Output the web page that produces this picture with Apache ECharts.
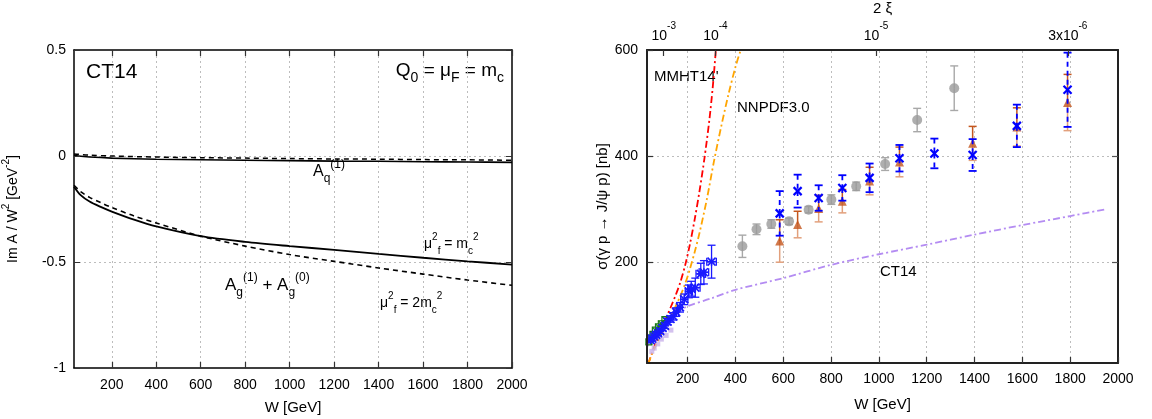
<!DOCTYPE html>
<html><head><meta charset="utf-8">
<script src="https://cdn.jsdelivr.net/npm/echarts@6/dist/echarts.min.js"></script>
<style>html,body{margin:0;padding:0;background:#fff}#c{width:1152px;height:419px}</style>
</head><body><div id="c"></div>
<script>
// ---------- data ----------
const W_TICKS = [200,400,600,800,1000,1200,1400,1600,1800,2000];
const LEFT_Y_GRID = [0,-0.5];
const RIGHT_Y_TICKS = [200,400,600];
const RIGHT_Y_GRID = [200,400];
const XI_TICK_W = [100,316,988,1790];
const XI_TICK_LABELS = ['{n|10}{e|-3}','{n|10}{e|-4}','{n|10}{e|-5}','{n|3x10}{e|-6}'];

// left panel: Im A / W^2
const aqW      = [30,50,100,200,400,600,800,1000,1200,1400,1600,1800,2000];
const aqSolid  = [0.005,0.0,-0.005,-0.01,-0.015,-0.018,-0.02,-0.022,-0.024,-0.025,-0.027,-0.028,-0.03];
const aqDashed = [0.01,0.008,0.004,0.0,-0.005,-0.008,-0.01,-0.012,-0.014,-0.015,-0.017,-0.018,-0.02];
const agW      = [30,60,100,150,200,300,400,600,800,1000,1200,1400,1600,1800,2000];
const agSolid  = [-0.145,-0.185,-0.215,-0.24,-0.262,-0.30,-0.332,-0.378,-0.405,-0.425,-0.443,-0.462,-0.48,-0.497,-0.512];
const agDashed = [-0.138,-0.168,-0.195,-0.22,-0.243,-0.283,-0.316,-0.378,-0.425,-0.465,-0.497,-0.528,-0.557,-0.585,-0.61];

// right panel: sigma(gamma p -> J/psi p)
const mmhtW  = [35,50,70,90,110,130,150,170,190,210,230,250,270,290,305,318];
const mmhtV  = [8,28,52,74,95,116,138,163,195,235,282,335,395,465,530,600];
const nnpdfW = [35,50,70,90,110,130,150,170,190,210,230,250,280,310,340,370,400,422];
const nnpdfV = [8,26,46,64,82,99,117,137,160,188,220,256,318,390,455,515,568,600];
const ct14W  = [30,50,75,100,150,200,300,400,600,800,1000,1200,1400,1600,1800,1950];
const ct14V  = [40,58,74,88,104,117,132,148,170,195,215,233,252,270,287,300];

const greyW   = [429,488,550,624,706,801,905,1026,1160,1315];
const greyV   = [230,262,272,277,299,318,343,385,468,528];
const greyErr = [21,10,8,6,6,9,8,12,22,42];

const triW   = [585,660,748,847,961,1086,1392,1577,1789];
const triV   = [240,271,301,315,353,389,424,455,501];
const triErr = [40,25,25,22,26,28,32,36,53];

const bxW   = [585,660,748,847,961,1086,1232,1392,1577,1789];
const bxV   = [292,334,321,340,359,396,405,402,457,525];
const bxErr = [42,31,24,24,27,25,28,30,40,70];

const starW   = [45,52,60,68,76,85,95,105,116,128,140,152,168,186,205,215,232,255,268,300];
const starV   = [53,56,60,63,66,70,76,80,88,93,98,106,115,130,145,150,152,178,181,201];
const starErr = [3,3,3,4,4,4,5,5,6,6,7,8,9,10,12,14,18,20,22,31];
const starXErr= [0,0,0,0,0,0,0,0,0,0,0,10,10,15,15,15,20,20,20,20];

const greenW = [38,45,55,65,78,90,105];
const greenV = [50,57,64,72,78,84,92];

const lavW = [50,60,75,90,110,130];
const lavV = [32,38,46,55,62,72];

// ---------- helpers ----------
const FONT = '"Liberation Sans", Arial, Helvetica, sans-serif';
const zip = (...a) => a[0].map((_, i) => a.map(x => x[i]));
const GRID_W = W_TICKS.filter(w => w < 2000);
function rich(base){
  const s = Math.round(base*0.72);
  return {
    m:{fontSize:base,fontFamily:FONT,color:'#000',lineHeight:base+10,verticalAlign:'middle'},
    s:{fontSize:s,fontFamily:FONT,color:'#000',lineHeight:s,verticalAlign:'bottom'},
    p:{fontSize:s,fontFamily:FONT,color:'#000',lineHeight:s,verticalAlign:'top'}
  };
}
function errRender(o){
  return function(params, api){
    const x=api.value(0), y=api.value(1), ey=api.value(2), ex=api.value(3)||0;
    const c=api.coord([x,y]);
    const top=api.coord([x,y+ey]), bot=api.coord([x,y-ey]);
    const ch=[];
    const lw=o.lw||1.3, cap=o.cap||4;
    if(ey>0){
      ch.push({type:'line',shape:{x1:c[0],y1:top[1],x2:c[0],y2:c[1]},style:{stroke:o.up||o.color,lineWidth:lw,lineDash:o.dash||null}});
      ch.push({type:'line',shape:{x1:c[0],y1:c[1],x2:c[0],y2:bot[1]},style:{stroke:o.down||o.color,lineWidth:lw,lineDash:o.dash||null}});
      ch.push({type:'line',shape:{x1:c[0]-cap,y1:top[1],x2:c[0]+cap,y2:top[1]},style:{stroke:o.up||o.color,lineWidth:lw}});
      ch.push({type:'line',shape:{x1:c[0]-cap,y1:bot[1],x2:c[0]+cap,y2:bot[1]},style:{stroke:o.down||o.color,lineWidth:lw}});
    }
    if(ex>0){
      const l=api.coord([x-ex,y]), r=api.coord([x+ex,y]);
      ch.push({type:'line',shape:{x1:l[0],y1:c[1],x2:r[0],y2:c[1]},style:{stroke:o.color,lineWidth:lw}});
      ch.push({type:'line',shape:{x1:l[0],y1:c[1]-cap,x2:l[0],y2:c[1]+cap},style:{stroke:o.color,lineWidth:lw}});
      ch.push({type:'line',shape:{x1:r[0],y1:c[1]-cap,x2:r[0],y2:c[1]+cap},style:{stroke:o.color,lineWidth:lw}});
    }
    const m=o.msize||4, ms={stroke:o.mcolor||o.color,lineWidth:o.mlw||2,fill:null};
    if(o.marker==='x'||o.marker==='star'||o.marker==='sqx'){
      ch.push({type:'line',shape:{x1:c[0]-m,y1:c[1]-m,x2:c[0]+m,y2:c[1]+m},style:ms});
      ch.push({type:'line',shape:{x1:c[0]-m,y1:c[1]+m,x2:c[0]+m,y2:c[1]-m},style:ms});
    }
    if(o.marker==='star'){
      ch.push({type:'line',shape:{x1:c[0]-m,y1:c[1],x2:c[0]+m,y2:c[1]},style:ms});
      ch.push({type:'line',shape:{x1:c[0],y1:c[1]-m,x2:c[0],y2:c[1]+m},style:ms});
    }
    if(o.marker==='sqx'){
      ch.push({type:'rect',shape:{x:c[0]-m,y:c[1]-m,width:2*m,height:2*m},style:{stroke:o.mcolor||o.color,lineWidth:1.2,fill:null}});
    }
    return {type:'group',children:ch};
  };
}
const gridLineStyle = {color:'#bdbdbd',type:[2,3],width:1};
const frame = {show:true,onZero:false,lineStyle:{color:'#000',width:1.5}};
const frameR = {show:true,onZero:false,lineStyle:{color:'#222',width:2}};
const tickIn = (vals, color) => ({show:true,inside:true,length:6,customValues:vals,lineStyle:{color:color||'#333',width:1.2}});
const plain = v => String(v);

// ---------- axes ----------
const xAxis = [
  {gridIndex:0,z:10,type:'value',min:30,max:2000,position:'bottom',axisLine:frame,
   axisTick:tickIn(W_TICKS),axisLabel:{customValues:W_TICKS,formatter:plain,fontSize:14,color:'#000',fontFamily:FONT,margin:10},
   splitLine:{show:false},name:'W [GeV]',nameLocation:'middle',nameGap:32,
   nameTextStyle:{fontSize:15,color:'#000',fontFamily:FONT}},
  {gridIndex:0,z:10,type:'value',min:30,max:2000,position:'top',axisLine:frame,
   axisTick:tickIn(W_TICKS),axisLabel:{show:false},splitLine:{show:false}},
  {gridIndex:1,z:10,type:'value',min:30,max:2000,position:'bottom',axisLine:frameR,
   axisTick:tickIn(W_TICKS),axisLabel:{customValues:W_TICKS,formatter:plain,fontSize:14,color:'#000',fontFamily:FONT,margin:9},
   splitLine:{show:false},name:'W [GeV]',nameLocation:'middle',nameGap:34,
   nameTextStyle:{fontSize:15,color:'#000',fontFamily:FONT}},
  {gridIndex:1,z:10,type:'value',min:30,max:2000,position:'top',axisLine:frameR,
   axisTick:tickIn(XI_TICK_W),
   axisLabel:{customValues:XI_TICK_W,margin:7,formatter:v=>XI_TICK_LABELS[XI_TICK_W.indexOf(v)]||'',
     rich:{n:{fontSize:14,fontFamily:FONT,color:'#000',lineHeight:22,verticalAlign:'bottom'},
           e:{fontSize:10,fontFamily:FONT,color:'#000',lineHeight:10,verticalAlign:'top'}}},
   splitLine:{show:false},name:'2 ξ',nameLocation:'middle',nameGap:31,
   nameTextStyle:{fontSize:15,color:'#000',fontFamily:FONT}}
];
const yAxis = [
  {gridIndex:0,z:10,type:'value',min:-1,max:0.5,interval:0.5,position:'left',axisLine:frame,
   axisTick:{show:true,inside:true,length:6,lineStyle:{color:'#333'}},
   axisLabel:{fontSize:14,color:'#000',fontFamily:FONT,margin:8},splitLine:{show:false},
   name:'{m|Im A / W}{p|2}{m| [GeV}{p|-2}{m|]}',nameLocation:'middle',nameGap:49,
   nameTextStyle:{rich:rich(14)}},
  {gridIndex:0,z:10,type:'value',min:-1,max:0.5,interval:0.5,position:'right',axisLine:frame,
   axisTick:{show:true,inside:true,length:6,lineStyle:{color:'#333'}},axisLabel:{show:false},splitLine:{show:false}},
  {gridIndex:1,z:10,type:'value',min:10,max:600,position:'left',axisLine:frameR,
   axisTick:tickIn(RIGHT_Y_TICKS),axisLabel:{customValues:RIGHT_Y_TICKS,formatter:plain,fontSize:14,color:'#000',fontFamily:FONT,margin:9},
   splitLine:{show:false},name:'σ(γ p → J/ψ p) [nb]',nameLocation:'middle',nameGap:30,
   nameTextStyle:{fontSize:15,color:'#000',fontFamily:FONT}},
  {gridIndex:1,z:10,type:'value',min:10,max:600,position:'right',axisLine:frameR,
   axisTick:tickIn(RIGHT_Y_GRID,'#555'),axisLabel:{show:false},splitLine:{show:false}}
];

// ---------- series ----------
const lineS = (name,xi,yi,W,V,color,type,width,extra) => Object.assign({
  name,type:'line',xAxisIndex:xi,yAxisIndex:yi,data:zip(W,V),showSymbol:false,smooth:0.3,
  lineStyle:{color,type,width},z:3},extra||{});
const gridMarks = (vert, horiz) => ({silent:true,symbol:'none',label:{show:false},lineStyle:gridLineStyle,
  animation:false,z:1,data:vert.map(w=>({xAxis:w})).concat(horiz.map(v=>({yAxis:v})))});

const series = [
  lineS('Aq solid',0,0,aqW,aqSolid,'#000','solid',1.6,{markLine:gridMarks(GRID_W,LEFT_Y_GRID)}),
  lineS('Aq dashed',0,0,aqW,aqDashed,'#000',[5,4],1.5),
  lineS('Ag solid',0,0,agW,agSolid,'#000','solid',1.8),
  lineS('Ag dashed',0,0,agW,agDashed,'#000',[5,4],1.6),

  lineS('MMHT14',2,2,mmhtW,mmhtV,'#ff0000',[7,3,2,3],1.8,{markLine:gridMarks(GRID_W,RIGHT_Y_GRID)}),
  lineS('NNPDF3.0',2,2,nnpdfW,nnpdfV,'#ffa500',[7,3,2,3],1.8),
  lineS('CT14',2,2,ct14W,ct14V,'#b48cf2',[7,3,2,3],1.8),

  {type:'scatter',xAxisIndex:2,yAxisIndex:2,data:zip(lavW,lavV),symbol:'rect',symbolSize:5,
   itemStyle:{color:'#c8b2ea'},z:4},
  {type:'custom',xAxisIndex:2,yAxisIndex:2,data:zip(greenW,greenV,greenW.map(()=>0)),
   renderItem:errRender({color:'#1a7a1a',marker:'sqx',msize:3,mlw:1.2}),z:4},
  {type:'custom',xAxisIndex:2,yAxisIndex:2,data:zip(starW,starV,starErr,starXErr),
   renderItem:errRender({color:'#1a1aff',marker:'star',msize:4,mlw:1.6,cap:4}),z:5},

  {type:'custom',xAxisIndex:2,yAxisIndex:2,data:zip(greyW,greyV,greyErr),
   renderItem:errRender({color:'#a8a8a8',marker:'none',cap:4,lw:1.4}),z:4},
  {type:'scatter',xAxisIndex:2,yAxisIndex:2,data:zip(greyW,greyV),symbol:'circle',symbolSize:10,
   itemStyle:{color:'#9a9a9a'},z:5},

  {type:'custom',xAxisIndex:2,yAxisIndex:2,data:zip(triW,triV,triErr),
   renderItem:errRender({color:'#c4561e',up:'#c4561e',down:'#e2a07c',marker:'none',cap:4,lw:1.5}),z:5},
  {type:'scatter',xAxisIndex:2,yAxisIndex:2,data:zip(triW,triV),symbol:'triangle',symbolSize:9,
   itemStyle:{color:'#c4561e'},z:6},

  {type:'custom',xAxisIndex:2,yAxisIndex:2,data:zip(bxW,bxV,bxErr),clip:true,
   renderItem:errRender({color:'#0000ff',dash:[5,4],marker:'x',msize:4,mlw:2.2,cap:4,lw:1.8}),z:7}
];

// ---------- annotations ----------
const graphic = [
  {type:'text',x:86,y:72,style:{text:'CT14',font:'21px '+FONT,fill:'#000',verticalAlign:'middle'}},
  {type:'text',x:504,y:71,style:{text:'{m|Q}{s|0}{m| = μ}{s|F}{m| = m}{s|c}',rich:rich(19),align:'right',verticalAlign:'middle'}},
  {type:'text',x:313,y:172,style:{text:'{m|A}{s|q}{p|(1)}',rich:rich(16),verticalAlign:'middle'}},
  {type:'text',x:225,y:285,style:{text:'{m|A}{s|g}{p|(1)}{m| + A}{s|g}{p|(0)}',rich:rich(17),verticalAlign:'middle'}},
  {type:'text',x:424,y:244,style:{text:'{m|μ}{p|2}{s|f}{m| = m}{s|c}{p|2}',rich:rich(14),verticalAlign:'middle'}},
  {type:'text',x:380,y:303,style:{text:'{m|μ}{p|2}{s|f}{m| = 2m}{s|c}{p|2}',rich:rich(14),verticalAlign:'middle'}},
  {type:'text',x:654,y:77,style:{text:"MMHT14'",font:'15px '+FONT,fill:'#000',verticalAlign:'middle'}},
  {type:'text',x:737,y:108,style:{text:'NNPDF3.0',font:'15px '+FONT,fill:'#000',verticalAlign:'middle'}},
  {type:'text',x:880,y:272,style:{text:'CT14',font:'15px '+FONT,fill:'#000',verticalAlign:'middle'}}
];

const option = {
  animation:false,
  backgroundColor:'#fff',
  grid:[{left:74,top:50,width:438,height:318,containLabel:false,outerBoundsMode:'none'},
        {left:647,top:50,width:471,height:313,containLabel:false,outerBoundsMode:'none'}],
  xAxis, yAxis, series, graphic
};
const chart = echarts.init(document.getElementById('c'));
chart.setOption(option);
</script>
</body></html>
